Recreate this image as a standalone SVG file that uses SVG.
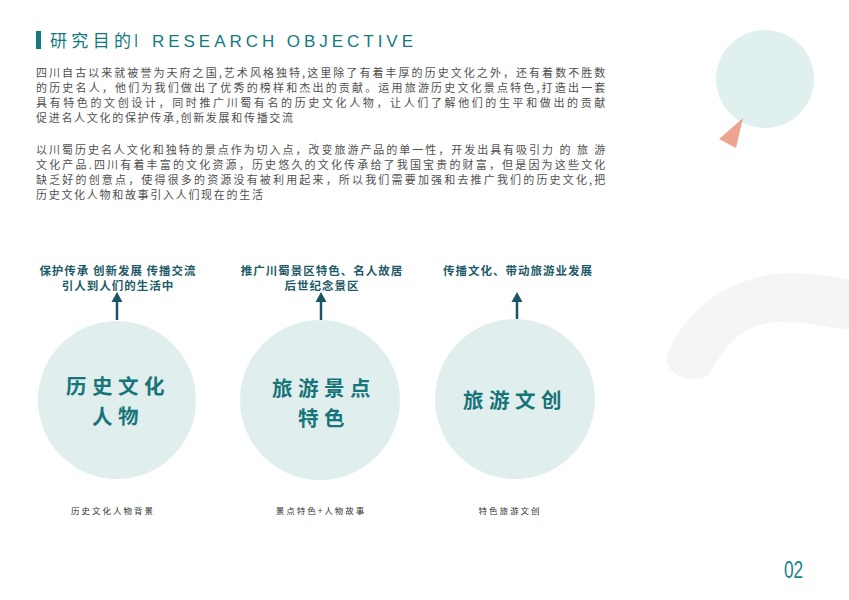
<svg xmlns="http://www.w3.org/2000/svg" width="849" height="600" viewBox="0 0 849 600">
<style>
.body{font-family:"Noto Sans CJK SC","Liberation Sans",sans-serif;font-size:11px;fill:#505050;letter-spacing:1.7px}
.lab{font-family:"Noto Sans CJK SC","Liberation Sans",sans-serif;font-size:11.5px;font-weight:bold;fill:#1e5a68;letter-spacing:1px;text-anchor:middle}
.big{font-family:"Noto Sans CJK SC","Liberation Sans",sans-serif;font-size:20.5px;font-weight:bold;fill:#177479;letter-spacing:5.5px;text-anchor:middle}
.small{font-family:"Noto Sans CJK SC","Liberation Sans",sans-serif;font-size:8.5px;fill:#333;letter-spacing:2px;text-anchor:middle}
.node{fill:#e0efee}
.arr{stroke:#1a5565;stroke-width:2.5;fill:none}
.head{fill:#1a5565}
</style>
<rect width="849" height="600" fill="#ffffff"/>
<!-- decorations -->
<path d="M667 355 C680 320 720 275 790 273 C815 273 835 277 849 280 L849 330 C830 328 810 322 780 322 C745 322 725 345 712 370 C705 382 690 381 680 376 C668 370 665 362 667 355 Z" fill="#f5f5f5"/>
<circle cx="765" cy="79" r="49" fill="#dff0ef"/>
<polygon points="743,118 719,139 736,148" fill="#eda592"/>
<!-- title -->
<g id="title">
<rect x="36" y="31" width="5" height="18" fill="#137a80"/>
<text x="50" y="47" font-family="'Noto Sans CJK SC','Liberation Sans',sans-serif" font-size="17" fill="#137a80" textLength="81" lengthAdjust="spacing">研究目的</text>
<rect x="135.5" y="34" width="1.3" height="13" fill="#137a80"/>
<text x="152" y="47" font-family="'Liberation Sans',sans-serif" font-size="17" fill="#137a80" textLength="261" lengthAdjust="spacing">RESEARCH OBJECTIVE</text>
</g>
<!-- paragraphs -->
<g id="para1" class="body">
<text class="body" x="36" y="77" textLength="571" lengthAdjust="spacing">四川自古以来就被誉为天府之国,艺术风格独特,这里除了有着丰厚的历史文化之外，还有着数不胜数</text>
<text class="body" x="36" y="92" textLength="571" lengthAdjust="spacing">的历史名人，他们为我们做出了优秀的榜样和杰出的贡献。运用旅游历史文化景点特色,打造出一套</text>
<text class="body" x="36" y="107" textLength="571" lengthAdjust="spacing">具有特色的文创设计，同时推广川蜀有名的历史文化人物，让人们了解他们的生平和做出的贡献</text>
<text class="body" x="36" y="122">促进名人文化的保护传承,创新发展和传播交流</text>
</g>
<g id="para2" class="body">
<text class="body" x="36" y="154" textLength="571" lengthAdjust="spacing">以川蜀历史名人文化和独特的景点作为切入点，改变旅游产品的单一性，开发出具有吸引力 的 旅 游</text>
<text class="body" x="36" y="169" textLength="571" lengthAdjust="spacing">文化产品.四川有着丰富的文化资源，历史悠久的文化传承给了我国宝贵的财富，但是因为这些文化</text>
<text class="body" x="36" y="184" textLength="571" lengthAdjust="spacing">缺乏好的创意点，使得很多的资源没有被利用起来，所以我们需要加强和去推广我们的历史文化,把</text>
<text class="body" x="36" y="199">历史文化人物和故事引入人们现在的生活</text>
</g>
<!-- connectors -->
<g id="connectors">
<line class="arr" x1="117" y1="300" x2="117" y2="320"/>
<polygon class="head" points="117,292 111.5,302 122.5,302"/>
<line class="arr" x1="321" y1="300" x2="321" y2="320"/>
<polygon class="head" points="321,292 315.5,302 326.5,302"/>
<line class="arr" x1="517" y1="300" x2="517" y2="319"/>
<polygon class="head" points="517,292 511.5,302 522.5,302"/>
</g>
<!-- nodes -->
<g id="node1">
<text class="lab" x="118" y="275">保护传承 创新发展 传播交流</text>
<text class="lab" x="118" y="290">引人到人们的生活中</text>
<circle class="node" cx="117" cy="400" r="79"/>
<text class="big"><tspan x="118" y="394">历史文化</tspan><tspan x="118" y="424">人物</tspan></text>
<text class="small" x="113" y="514">历史文化人物背景</text>
</g>
<g id="node2">
<text class="lab" x="322" y="275">推广川蜀景区特色、名人故居</text>
<text class="lab" x="322" y="290">后世纪念景区</text>
<circle class="node" cx="320" cy="400" r="80"/>
<text class="big"><tspan x="324" y="396">旅游景点</tspan><tspan x="324" y="426">特色</tspan></text>
<text class="small" x="321" y="514">景点特色+人物故事</text>
</g>
<g id="node3">
<text class="lab" x="518" y="275">传播文化、带动旅游业发展</text>
<circle class="node" cx="515" cy="399" r="80"/>
<text class="big" x="515" y="408">旅游文创</text>
<text class="small" x="510" y="514">特色旅游文创</text>
</g>
<!-- page number -->
<text x="0" y="0" transform="translate(784,578) scale(0.72,1)" font-family="'Liberation Sans',sans-serif" font-size="24" fill="#17858a">02</text>
</svg>
